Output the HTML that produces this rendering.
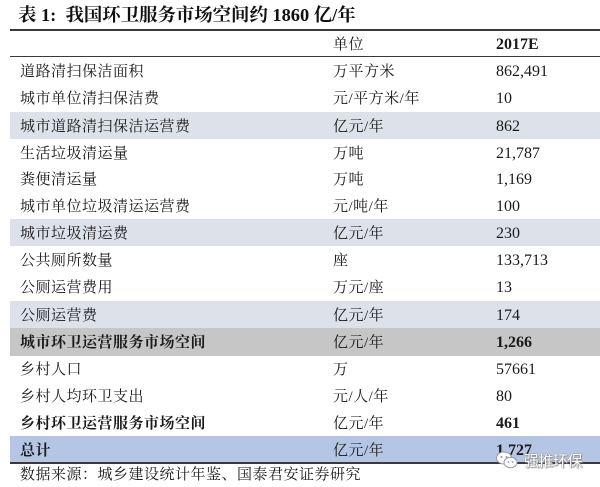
<!DOCTYPE html>
<html>
<head>
<meta charset="utf-8">
<style>
  html,body{margin:0;padding:0;background:#fff;}
  body{width:600px;height:487px;position:relative;overflow:hidden;
       font-family:"Liberation Serif","Noto Serif CJK SC","Noto Serif CJK","Noto Serif SC","Noto Sans CJK SC",serif;color:#1a1a1a;}
  .title{position:absolute;left:18px;top:2px;height:26px;line-height:26px;
         font-size:18.4px;font-weight:bold;white-space:nowrap;color:#111;}
  .row{position:absolute;left:10px;width:590px;display:flex;align-items:center;}
  .c1{position:absolute;left:10px;top:calc(50% - 10px);line-height:22px;font-size:15px;letter-spacing:0.5px;white-space:nowrap;}
  .c2{position:absolute;left:323px;top:calc(50% - 10px);line-height:22px;font-size:15px;letter-spacing:0.5px;white-space:nowrap;}
  .c3{position:absolute;left:486px;top:calc(50% - 10px);line-height:22px;font-size:16px;white-space:nowrap;}
  .b{font-weight:bold;}
  .sh{background:#dde2ea;}
  .gr{background:#c6c6c6;}
  .bl{background:#b5c6e5;}
  .line{position:absolute;left:10px;width:590px;background:#3a3a3a;}
  .src{position:absolute;left:20px;top:465px;font-size:15px;letter-spacing:0.5px;white-space:nowrap;line-height:20px;}
  .wm{position:absolute;left:496px;top:450px;height:20px;display:flex;align-items:center;}
  .wmt{font-family:"Liberation Sans","Noto Sans CJK SC",sans-serif;font-size:15px;color:#fff;
       text-shadow:0 0 1px #777,0 0 1px #777,1px 1px 1px #999;margin-left:6px;letter-spacing:-0.5px;}
</style>
</head>
<body>
<div class="title">表 1:&nbsp; 我国环卫服务市场空间约 1860 亿/年</div>

<div class="line" style="top:29px;height:2px;"></div>
<div class="row" style="top:31px;height:25px;">
  <span class="c2">单位</span><span class="c3 b">2017E</span>
</div>
<div class="line" style="top:56px;height:1px;"></div>

<div class="row" style="top:57px;height:27px;">
  <span class="c1">道路清扫保洁面积</span><span class="c2">万平方米</span><span class="c3">862,491</span>
</div>
<div class="row" style="top:84px;height:28px;">
  <span class="c1">城市单位清扫保洁费</span><span class="c2">元/平方米/年</span><span class="c3">10</span>
</div>
<div class="row sh" style="top:112px;height:27px;">
  <span class="c1">城市道路清扫保洁运营费</span><span class="c2">亿元/年</span><span class="c3">862</span>
</div>
<div class="row" style="top:139px;height:27px;">
  <span class="c1">生活垃圾清运量</span><span class="c2">万吨</span><span class="c3">21,787</span>
</div>
<div class="row" style="top:166px;height:26px;">
  <span class="c1">粪便清运量</span><span class="c2">万吨</span><span class="c3">1,169</span>
</div>
<div class="row" style="top:192px;height:27px;">
  <span class="c1">城市单位垃圾清运运营费</span><span class="c2">元/吨/年</span><span class="c3">100</span>
</div>
<div class="row sh" style="top:219px;height:27px;">
  <span class="c1">城市垃圾清运费</span><span class="c2">亿元/年</span><span class="c3">230</span>
</div>
<div class="row" style="top:246px;height:27px;">
  <span class="c1">公共厕所数量</span><span class="c2">座</span><span class="c3">133,713</span>
</div>
<div class="row" style="top:273px;height:28px;">
  <span class="c1">公厕运营费用</span><span class="c2">万元/座</span><span class="c3">13</span>
</div>
<div class="row sh" style="top:301px;height:27px;">
  <span class="c1">公厕运营费</span><span class="c2">亿元/年</span><span class="c3">174</span>
</div>
<div class="row gr" style="top:328px;height:28px;">
  <span class="c1 b">城市环卫运营服务市场空间</span><span class="c2">亿元/年</span><span class="c3 b">1,266</span>
</div>
<div class="row" style="top:356px;height:26px;">
  <span class="c1">乡村人口</span><span class="c2">万</span><span class="c3">57661</span>
</div>
<div class="row" style="top:382px;height:27px;">
  <span class="c1">乡村人均环卫支出</span><span class="c2">元/人/年</span><span class="c3">80</span>
</div>
<div class="row" style="top:409px;height:27px;">
  <span class="c1 b">乡村环卫运营服务市场空间</span><span class="c2">亿元/年</span><span class="c3 b">461</span>
</div>
<div class="row bl" style="top:436px;height:27px;">
  <span class="c1 b">总计</span><span class="c2">亿元/年</span><span class="c3 b">1,727</span>
</div>
<div class="line" style="top:462px;height:2px;"></div>

<div class="src">数据来源：城乡建设统计年鉴、国泰君安证券研究</div>

<div class="wm">
  <svg width="22" height="18" viewBox="0 0 22 18">
    <ellipse cx="8" cy="7" rx="7.5" ry="6" fill="#fff" stroke="#999" stroke-width="1"/>
    <ellipse cx="14.5" cy="11.5" rx="6.5" ry="5.2" fill="#fff" stroke="#999" stroke-width="1"/>
    <circle cx="5.5" cy="6" r="1" fill="#999"/>
    <circle cx="10.5" cy="6" r="1" fill="#999"/>
    <circle cx="12.5" cy="11" r="0.9" fill="#999"/>
    <circle cx="16.5" cy="11" r="0.9" fill="#999"/>
  </svg>
  <span class="wmt">强推环保</span>
</div>
</body>
</html>
